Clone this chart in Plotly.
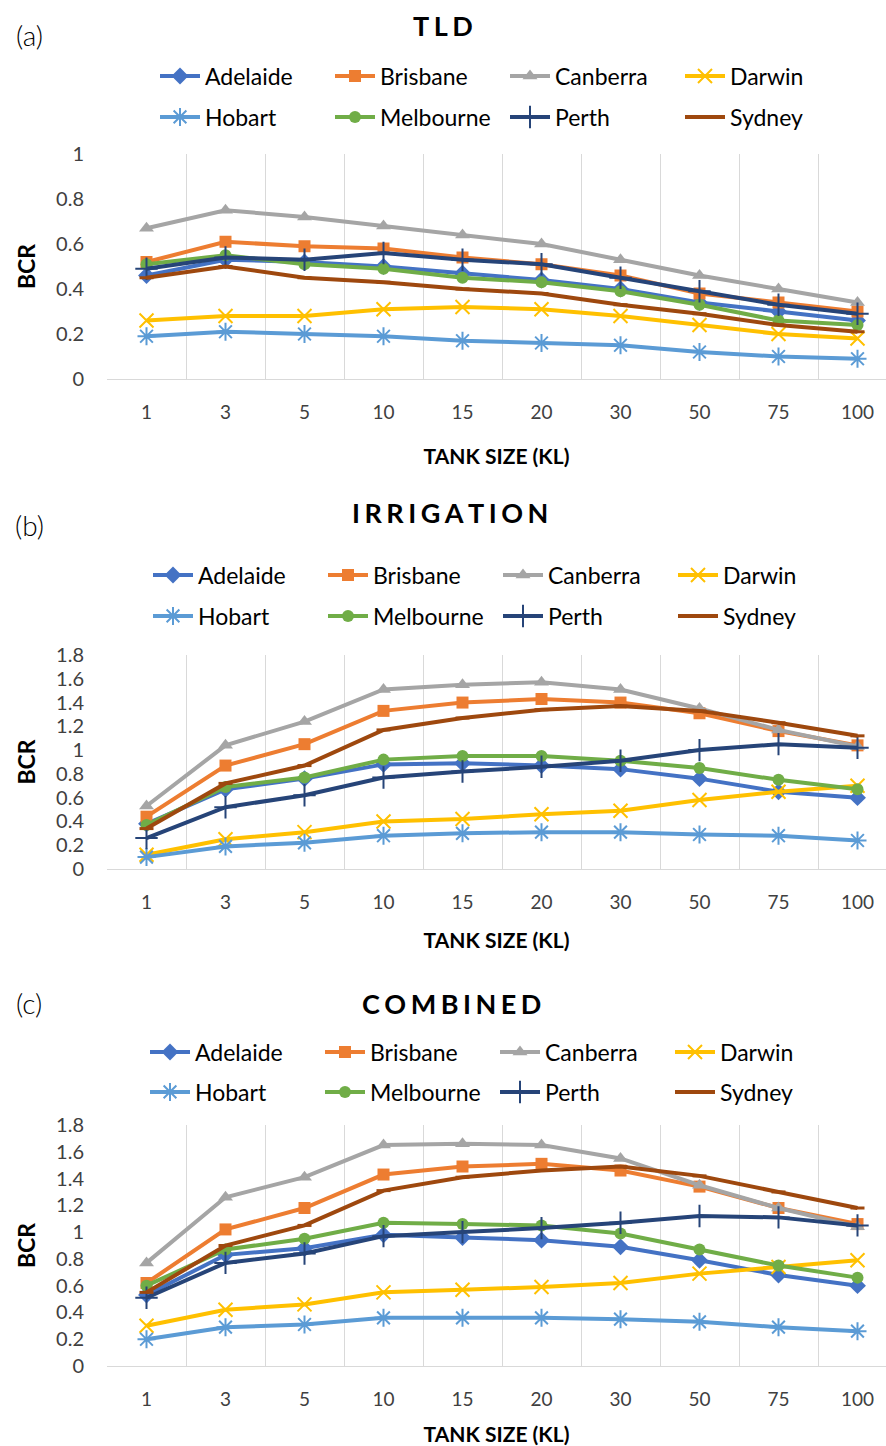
import plotly.graph_objects as go

tank_sizes = ["1", "3", "5", "10", "15", "20", "30", "50", "75", "100"]
cities = ["Adelaide", "Brisbane", "Canberra", "Darwin", "Hobart", "Melbourne", "Perth", "Sydney"]

# (a) TLD
tld_adelaide = [0.46, 0.53, 0.52, 0.50, 0.47, 0.44, 0.40, 0.34, 0.30, 0.26]
tld_brisbane = [0.52, 0.61, 0.59, 0.58, 0.54, 0.51, 0.46, 0.38, 0.34, 0.30]
tld_canberra = [0.67, 0.75, 0.72, 0.68, 0.64, 0.60, 0.53, 0.46, 0.40, 0.34]
tld_darwin = [0.26, 0.28, 0.28, 0.31, 0.32, 0.31, 0.28, 0.24, 0.20, 0.18]
tld_hobart = [0.19, 0.21, 0.20, 0.19, 0.17, 0.16, 0.15, 0.12, 0.10, 0.09]
tld_melbourne = [0.51, 0.55, 0.51, 0.49, 0.45, 0.43, 0.39, 0.33, 0.26, 0.24]
tld_perth = [0.49, 0.54, 0.53, 0.56, 0.53, 0.51, 0.45, 0.39, 0.33, 0.29]
tld_sydney = [0.45, 0.50, 0.45, 0.43, 0.40, 0.38, 0.33, 0.29, 0.24, 0.21]

# (b) IRRIGATION
irr_adelaide = [0.38, 0.67, 0.76, 0.88, 0.89, 0.87, 0.84, 0.76, 0.65, 0.60]
irr_brisbane = [0.44, 0.87, 1.05, 1.33, 1.40, 1.43, 1.40, 1.31, 1.16, 1.04]
irr_canberra = [0.53, 1.04, 1.24, 1.51, 1.55, 1.57, 1.51, 1.35, 1.17, 1.03]
irr_darwin = [0.12, 0.25, 0.31, 0.40, 0.42, 0.46, 0.49, 0.58, 0.65, 0.70]
irr_hobart = [0.10, 0.19, 0.22, 0.28, 0.30, 0.31, 0.31, 0.29, 0.28, 0.24]
irr_melbourne = [0.37, 0.69, 0.77, 0.92, 0.95, 0.95, 0.91, 0.85, 0.75, 0.67]
irr_perth = [0.26, 0.52, 0.62, 0.77, 0.82, 0.86, 0.91, 1.00, 1.05, 1.02]
irr_sydney = [0.34, 0.72, 0.87, 1.17, 1.27, 1.34, 1.37, 1.33, 1.23, 1.12]

# (c) COMBINED
com_adelaide = [0.53, 0.83, 0.88, 0.98, 0.96, 0.94, 0.89, 0.79, 0.68, 0.60]
com_brisbane = [0.62, 1.02, 1.18, 1.43, 1.49, 1.51, 1.46, 1.34, 1.18, 1.06]
com_canberra = [0.77, 1.26, 1.41, 1.65, 1.66, 1.65, 1.55, 1.35, 1.18, 1.04]
com_darwin = [0.30, 0.42, 0.46, 0.55, 0.57, 0.59, 0.62, 0.69, 0.74, 0.79]
com_hobart = [0.20, 0.29, 0.31, 0.36, 0.36, 0.36, 0.35, 0.33, 0.29, 0.26]
com_melbourne = [0.60, 0.87, 0.95, 1.07, 1.06, 1.05, 0.99, 0.87, 0.75, 0.66]
com_perth = [0.51, 0.77, 0.84, 0.97, 1.00, 1.03, 1.07, 1.12, 1.11, 1.05]
com_sydney = [0.55, 0.90, 1.05, 1.31, 1.41, 1.46, 1.49, 1.42, 1.30, 1.18]

panel_titles = ["TLD", "IRRIGATION", "COMBINED"]
panel_labels = ["(a)", "(b)", "(c)"]
panel_series = [
    [tld_adelaide, tld_brisbane, tld_canberra, tld_darwin, tld_hobart, tld_melbourne, tld_perth, tld_sydney],
    [irr_adelaide, irr_brisbane, irr_canberra, irr_darwin, irr_hobart, irr_melbourne, irr_perth, irr_sydney],
    [com_adelaide, com_brisbane, com_canberra, com_darwin, com_hobart, com_melbourne, com_perth, com_sydney],
]
y_max = [1.0, 1.8, 1.8]
y_dtick = [0.2, 0.2, 0.2]

colors = ["#4472C4", "#ED7D31", "#A5A5A5", "#FFC000", "#5B9BD5", "#70AD47", "#264478", "#9E480E"]
symbols = ["diamond", "square", "triangle-up", "x-thin", "asterisk", "circle", "cross-thin", "line-ew"]
msizes = [13, 12, 13, 14, 15, 12, 16, 10]

W, H = 886, 1446
FONT = "Lato"

# pixel layout (top, bottom of plot area), legend rows, text positions
plot_px = [(154, 379), (655, 869), (1125, 1366)]
legend_rows_px = [(76, 117), (575, 616), (1052, 1092)]
legend_x_px = [155, 148, 145]
title_px = [(443, 25), (450, 512), (452, 1003)]
label_px = [(29, 35), (29, 525), (29, 1003)]
xtitle_gap = [27, 21, 22]

x_left = 107
cat_w = 79.0
x_range_right = -0.5 + (W - x_left) / cat_w

def py(p):
    return 1 - p / H

fig = go.Figure()
layout = dict(
    width=W, height=H, margin=dict(l=0, r=0, t=0, b=0, autoexpand=False),
    paper_bgcolor="white", plot_bgcolor="white",
    font=dict(family=FONT, color="#000000"),
    annotations=[],
)

for p in range(3):
    ax = "" if p == 0 else str(p + 1)
    top, bot = plot_px[p]
    for i, city in enumerate(cities):
        leg_idx = p * 2 + (0 if i < 4 else 1)
        leg_name = "legend" if leg_idx == 0 else "legend%d" % (leg_idx + 1)
        open_sym = symbols[i] in ("x-thin", "asterisk", "cross-thin", "line-ew")
        marker = dict(symbol=symbols[i], size=msizes[i], color=colors[i],
                      line=dict(color=colors[i], width=2 if open_sym else 0))
        if symbols[i] == "line-ew":
            marker["line"]["width"] = 3
        fig.add_trace(go.Scatter(
            x=tank_sizes, y=panel_series[p][i], name=city, mode="lines+markers",
            line=dict(color=colors[i], width=4), marker=marker,
            xaxis="x" + ax, yaxis="y" + ax, legend=leg_name, showlegend=True,
        ))
    layout["xaxis" + ax] = dict(
        type="category", domain=[x_left / W, 1], anchor="y" + ax,
        range=[-0.5, x_range_right], tickson="boundaries",
        showgrid=True, gridcolor="#D9D9D9", gridwidth=1,
        showline=True, linecolor="#D9D9D9", linewidth=1,
        ticks="", ticklabelstandoff=16,
        tickfont=dict(family=FONT, size=19, color="#404040"),
        title=dict(text="<b>TANK SIZE (KL)</b>", font=dict(family=FONT, size=21, color="#000000"),
                   standoff=xtitle_gap[p]),
        zeroline=False, fixedrange=True, automargin=False,
    )
    layout["yaxis" + ax] = dict(
        domain=[py(bot), py(top)], anchor="x" + ax, range=[0, y_max[p]],
        dtick=y_dtick[p], tick0=0, showgrid=False, zeroline=False, showline=False,
        ticks="", ticklabelstandoff=22,
        tickfont=dict(family=FONT, size=20, color="#404040"),
        title=dict(text="<b>BCR</b>", font=dict(family=FONT, size=23, color="#000000"), standoff=14),
        fixedrange=True, automargin=False,
    )
    for r in range(2):
        leg_idx = p * 2 + r
        leg_name = "legend" if leg_idx == 0 else "legend%d" % (leg_idx + 1)
        layout[leg_name] = dict(
            orientation="h", x=legend_x_px[p] / W, xanchor="left",
            y=py(legend_rows_px[p][r]), yanchor="middle",
            entrywidth=120, entrywidthmode="pixels", itemwidth=40,
            font=dict(family=FONT, size=23, color="#000000"),
            bgcolor="rgba(0,0,0,0)", borderwidth=0, itemclick=False,
            tracegroupgap=0,
        )
    tx, tyy = title_px[p]
    layout["annotations"].append(dict(
        text="<b>%s</b>" % "&#8198;".join(panel_titles[p]), x=tx / W, y=py(tyy), xref="paper", yref="paper",
        xanchor="center", yanchor="middle", showarrow=False,
        font=dict(family=FONT, size=27, color="#000000"),
    ))
    lx, ly = label_px[p]
    layout["annotations"].append(dict(
        text=panel_labels[p], x=lx / W, y=py(ly), xref="paper", yref="paper",
        xanchor="center", yanchor="middle", showarrow=False,
        font=dict(family=FONT, size=28, color="#000000", weight=300),
    ))

fig.update_layout(**layout)
fig.write_html("out.html", config={"displayModeBar": False},
               post_script="document.body.style.margin='0px';")
